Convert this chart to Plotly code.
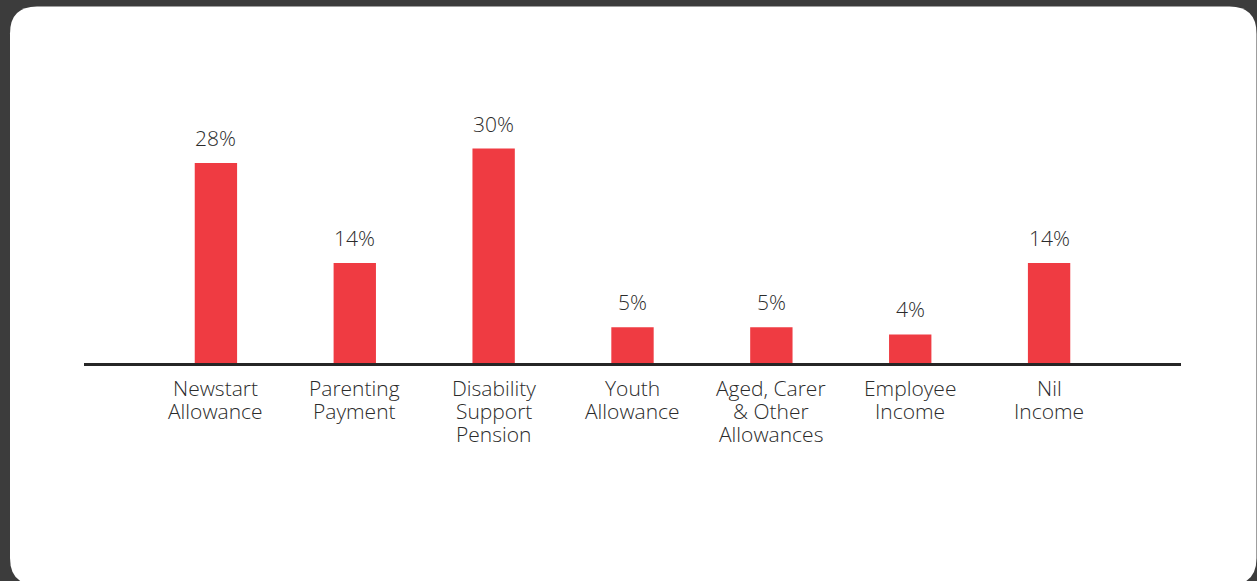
import plotly.graph_objects as go

# Share of people by main income source
categories = [
    ["Newstart", "Allowance"],
    ["Parenting", "Payment"],
    ["Disability", "Support", "Pension"],
    ["Youth", "Allowance"],
    ["Aged, Carer", "& Other", "Allowances"],
    ["Employee", "Income"],
    ["Nil", "Income"],
]
values = [28, 14, 30, 5, 5, 4, 14]

W, H = 1257, 581
L, R, T, B = 84, 76, 50, 218
FONT = "Open Sans"
TEXT = "#2b2b2b"
RED = "#EF3B42"
LABEL_FONT = dict(family=FONT, size=21, color=TEXT, weight=350)

plot_w = W - L - R
plot_h = H - T - B


def px(x):
    return (x - L) / plot_w


def py(y):
    return (H - B - y) / plot_h


# white rounded card on a dark page
x0, x1, y0, y1, rad = 10, 1256.5, 6.5, 585, 27
card = (
    f"M {px(x0 + rad)},{py(y0)} L {px(x1 - rad)},{py(y0)} "
    f"Q {px(x1)},{py(y0)} {px(x1)},{py(y0 + rad)} "
    f"L {px(x1)},{py(y1 - rad)} Q {px(x1)},{py(y1)} {px(x1 - rad)},{py(y1)} "
    f"L {px(x0 + rad)},{py(y1)} Q {px(x0)},{py(y1)} {px(x0)},{py(y1 - rad)} "
    f"L {px(x0)},{py(y0 + rad)} Q {px(x0)},{py(y0)} {px(x0 + rad)},{py(y0)} Z"
)

fig = go.Figure(
    go.Bar(
        x=list(range(len(categories))),
        y=values,
        width=0.305,
        marker=dict(color=RED, line=dict(width=0)),
        hoverinfo="skip",
    )
)

# value labels above the bars
for i, v in enumerate(values):
    fig.add_annotation(
        x=i, y=v, text=f"{v}%", showarrow=False, xref="x", yref="y",
        yanchor="bottom", yshift=9, font=LABEL_FONT,
    )

# category labels under the axis, one line at a time (23 px leading)
for i, lines in enumerate(categories):
    for k, line in enumerate(lines):
        fig.add_annotation(
            x=i, y=0, text=line, showarrow=False, xref="x", yref="paper",
            yanchor="middle", yshift=-(25 + 23 * k), font=LABEL_FONT,
        )

fig.add_shape(
    type="path", path=card, xref="paper", yref="paper",
    fillcolor="white", line=dict(width=0), layer="below",
)

fig.update_layout(
    width=W, height=H,
    margin=dict(l=L, r=R, t=T, b=B, pad=0),
    paper_bgcolor="#3c3c3c",
    plot_bgcolor="rgba(0,0,0,0)",
    showlegend=False,
    font=dict(family=FONT, size=20, color=TEXT),
    xaxis=dict(
        range=[-0.95, 6.95],
        showticklabels=False, ticks="",
        showline=True, linecolor="#262626", linewidth=3,
        showgrid=False, zeroline=False,
        fixedrange=True,
    ),
    yaxis=dict(
        range=[0, 43.8], visible=False, showgrid=False, zeroline=False,
        fixedrange=True,
    ),
)

fig.write_html("out.html")
